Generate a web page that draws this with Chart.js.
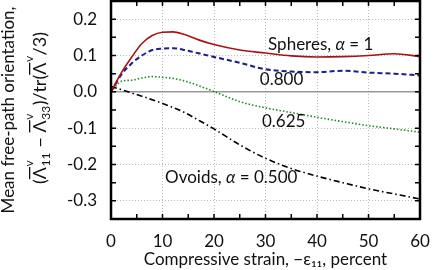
<!DOCTYPE html>
<html>
<head>
<meta charset="utf-8">
<script src="https://cdn.jsdelivr.net/npm/chart.js@4"></script>
<style>
  html, body { margin: 0; padding: 0; background: #fff; }
  #wrap { width: 433px; height: 270px; }
</style>
</head>
<body>
<div id="wrap"><canvas id="chart"></canvas></div>
<script>
const strain = [0, 2, 4, 6, 8, 10, 12, 14, 17, 20, 25, 30, 35, 40, 45, 50, 55, 60];
const spheres = [0, 0.052, 0.095, 0.133, 0.155, 0.164, 0.165, 0.159, 0.143, 0.130, 0.115, 0.107, 0.099, 0.096, 0.097, 0.100, 0.105, 0.097];
const alpha800 = [0, 0.047, 0.078, 0.100, 0.115, 0.119, 0.120, 0.116, 0.106, 0.096, 0.080, 0.062, 0.056, 0.054, 0.058, 0.053, 0.050, 0.045];
const alpha625 = [0, 0.029, 0.032, 0.038, 0.042, 0.040, 0.037, 0.031, 0.017, 0.001, -0.027, -0.044, -0.057, -0.070, -0.082, -0.093, -0.102, -0.111];
const ovoids = [0.015, 0.006, -0.003, -0.012, -0.022, -0.032, -0.043, -0.055, -0.078, -0.102, -0.146, -0.183, -0.211, -0.232, -0.250, -0.267, -0.281, -0.295];
const curveLabels = [
  { text: "Spheres, α = 1", x: 30.5, y: 0.131 },
  { text: "0.800", x: 28.9, y: 0.033 },
  { text: "0.625", x: 29.3, y: -0.083 },
  { text: "Ovoids, α = 0.500", x: 10.5, y: -0.236 },
];

const FONT = "Lato, 'DejaVu Sans', sans-serif";

function pts(values) {
  return strain.map((s, i) => ({ x: s, y: values[i] }));
}

function isTenth(v) {
  return Math.abs(v * 10 - Math.round(v * 10)) < 1e-6;
}

// α is set in italic, as in the math font of the original
function drawRich(ctx, text, x, y) {
  text.split(/(α)/).forEach((seg) => {
    if (!seg) return;
    ctx.font = (seg === "α" ? "italic " : "") + "17px " + FONT;
    ctx.fillText(seg, x, y);
    x += ctx.measureText(seg).width;
  });
}

const framePlugin = {
  id: "frame",
  beforeDatasetsDraw(chart) {
    const { ctx, chartArea: a, scales } = chart;
    const y0 = scales.y.getPixelForValue(0);
    ctx.save();
    ctx.strokeStyle = "#666";
    ctx.lineWidth = 1;
    ctx.beginPath();
    ctx.moveTo(a.left, y0);
    ctx.lineTo(a.right, y0);
    ctx.stroke();
    ctx.restore();
  },
  afterDraw(chart) {
    const { ctx, chartArea: a, scales } = chart;
    ctx.save();
    // ticks pointing inwards on all four sides
    ctx.strokeStyle = "#000";
    ctx.lineWidth = 1.5;
    ctx.beginPath();
    for (let v = 5; v < 60; v += 5) {
      const px = scales.x.getPixelForValue(v);
      ctx.moveTo(px, a.bottom);
      ctx.lineTo(px, a.bottom - 5);
      ctx.moveTo(px, a.top);
      ctx.lineTo(px, a.top + 5);
    }
    scales.y.ticks.forEach((t) => {
      const py = scales.y.getPixelForValue(t.value);
      ctx.moveTo(a.left, py);
      ctx.lineTo(a.left + 5, py);
      ctx.moveTo(a.right, py);
      ctx.lineTo(a.right - 5, py);
    });
    ctx.stroke();
    ctx.lineWidth = 2.5;
    ctx.strokeRect(a.left, a.top, a.right - a.left, a.bottom - a.top);

    // curve labels
    ctx.fillStyle = "#111";
    ctx.textBaseline = "middle";
    ctx.textAlign = "left";
    curveLabels.forEach((l) => {
      drawRich(ctx, l.text, scales.x.getPixelForValue(l.x), scales.y.getPixelForValue(l.y));
    });

    // y axis title, first line
    ctx.font = "17px " + FONT;
    ctx.translate(9, 110);
    ctx.rotate(-Math.PI / 2);
    ctx.textAlign = "center";
    ctx.fillText("Mean free-path orientation,", 0, 0);
    ctx.restore();

    ctx.save();
    ctx.fillStyle = "#111";
    ctx.translate(40, 108);
    ctx.rotate(-Math.PI / 2);
    drawFormula(ctx);
    ctx.restore();
  },
};

// (Λ̄ᵛ11 − Λ̄ᵛ33)/tr(Λ̄ᵛ/3) built from pieces
function drawFormula(ctx) {
  const big = "18px " + FONT;
  const small = "12px " + FONT;
  const parts = [
    { t: "(" },
    { lam: true, sub: "11" },
    { t: " − " },
    { lam: true, sub: "33" },
    { t: ")/tr(" },
    { lam: true, sub: "" },
    { t: "/3)" },
  ];
  ctx.textBaseline = "alphabetic";
  ctx.textAlign = "left";
  let total = 0;
  parts.forEach((p) => {
    if (p.lam) {
      ctx.font = big;
      p.w1 = ctx.measureText("Λ").width;
      ctx.font = small;
      p.w2 = Math.max(ctx.measureText(p.sub).width, ctx.measureText("v").width);
      p.w = p.w1 + p.w2 + 1;
    } else {
      ctx.font = big;
      p.w = ctx.measureText(p.t).width;
    }
    total += p.w;
  });
  let x = -total / 2;
  const base = 6;
  parts.forEach((p) => {
    if (p.lam) {
      ctx.font = big;
      ctx.fillText("Λ", x, base);
      ctx.fillRect(x, base - 17, p.w1, 1.3);
      ctx.font = small;
      ctx.fillText("v", x + p.w1 + 0.5, base - 13);
      if (p.sub) ctx.fillText(p.sub, x + p.w1 + 0.5, base + 4);
    } else {
      ctx.font = big;
      ctx.fillText(p.t, x, base);
    }
    x += p.w;
  });
}

new Chart(document.getElementById("chart"), {
  type: "line",
  data: {
    datasets: [
      { label: "Spheres, α = 1", data: pts(spheres), borderColor: "#aa1111", borderWidth: 1.6 },
      { label: "0.800", data: pts(alpha800), borderColor: "#1c1c8c", borderWidth: 2, borderDash: [5, 3] },
      { label: "0.625", data: pts(alpha625), borderColor: "#1e8a1e", borderWidth: 1.6, borderDash: [1.5, 2] },
      { label: "Ovoids, α = 0.500", data: pts(ovoids), borderColor: "#000", borderWidth: 1.6, borderDash: [6, 3, 1.5, 3] },
    ],
  },
  options: {
    responsive: true,
    maintainAspectRatio: false,
    animation: false,
    layout: { padding: { top: 1, right: 13, left: 0, bottom: 0 } },
    elements: {
      point: { radius: 0 },
      line: { cubicInterpolationMode: "monotone", fill: false },
    },
    plugins: { legend: { display: false }, tooltip: { enabled: false } },
    scales: {
      x: {
        type: "linear",
        min: 0,
        max: 60,
        ticks: { stepSize: 10, color: "#111", font: { family: FONT, size: 17 }, padding: 12, maxRotation: 0 },
        grid: { color: "#bbb", drawTicks: false, lineWidth: 1 },
        border: { display: false, dash: [1, 2] },
        title: {
          display: true,
          text: "Compressive strain, −ε₁₁, percent",
          color: "#111",
          font: { family: FONT, size: 17 },
          padding: { top: 0, bottom: 0 },
        },
        afterFit(scale) {
          scale.height = 51;
          scale.paddingLeft = 0;
          scale.paddingRight = 0;
        },
      },
      y: {
        type: "linear",
        min: -0.35,
        max: 0.25,
        ticks: {
          stepSize: 0.05,
          autoSkip: false,
          color: "#111",
          font: { family: FONT, size: 17 },
          padding: 14,
          callback: (v) => (isTenth(v) ? v.toFixed(1) : ""),
        },
        grid: {
          color: (c) => (c.tick && isTenth(c.tick.value) && Math.abs(c.tick.value) > 1e-9 ? "#bbb" : "rgba(0,0,0,0)"),
          drawTicks: false,
          lineWidth: 1,
        },
        border: { display: false, dash: [1, 2] },
        afterFit(scale) {
          scale.width = 111;
          scale.paddingTop = 0;
          scale.paddingBottom = 0;
        },
      },
    },
  },
  plugins: [framePlugin],
});
</script>
</body>
</html>
